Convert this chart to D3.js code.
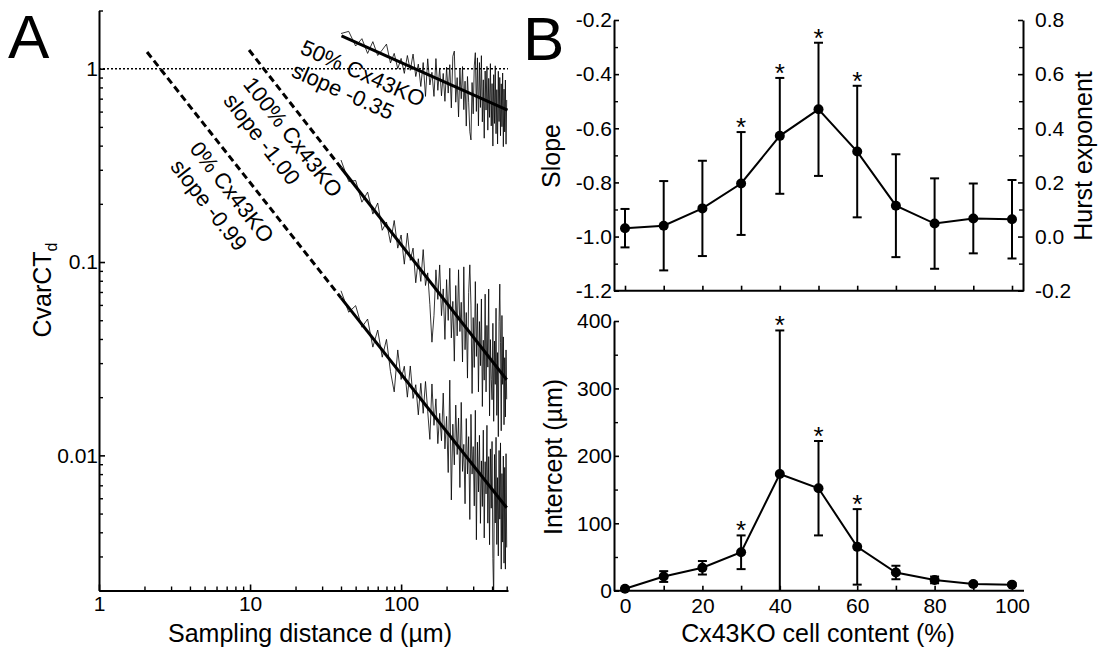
<!DOCTYPE html>
<html><head><meta charset="utf-8">
<script src="https://cdn.jsdelivr.net/npm/d3@7"></script>
<style>
body{margin:0;background:#fff;}
text{font-family:"Liberation Sans",Arial,sans-serif;fill:#000;}
</style></head>
<body>
<script>
// ---------- Panel A data ----------
const dist = [40,45,50,55,60,65,70,75,80,85,90,95,100,105,110,115,120,125,130,135,140,145,150,155,160,165,170,175,180,185,190,195,200,205,210,215,220,225,230,235,240,245,250,255,260,265,270,275,280,285,290,295,300,305,310,315,320,325,330,335,340,345,350,355,360,365,370,375,380,385,390,395,400,405,410,415,420,425,430,435,440,445,450,455,460,465,470,475,480,485,490,495,500];
const cvar0 = [0.0710,0.0550,0.0595,0.0460,0.0507,0.0363,0.0445,0.0322,0.0398,0.0272,0.0213,0.0351,0.0247,0.0289,0.0200,0.0290,0.0197,0.0232,0.0162,0.0236,0.0165,0.0241,0.0169,0.0121,0.0234,0.0143,0.0196,0.0115,0.0165,0.0119,0.0210,0.0108,0.0159,0.00815,0.0245,0.00588,0.0145,0.00893,0.0182,0.0101,0.0156,0.00682,0.0188,0.00826,0.0114,0.00562,0.0155,0.00802,0.0125,0.00466,0.0163,0.00800,0.0111,0.00548,0.0171,0.00366,0.0117,0.00647,0.0127,0.00445,0.00936,0.00544,0.0135,0.00374,0.00927,0.00632,0.0143,0.00446,0.00985,0.00345,0.0108,0.00533,0.0118,0.00293,0.0018,0.0101,0.00447,0.0124,0.00346,0.00767,0.00302,0.0106,0.00468,0.0116,0.00258,0.00805,0.00356,0.00992,0.00277,0.00866,0.00258,0.0102,0.00334];
const cvar50 = [1.52,1.56,1.31,1.43,1.20,1.38,1.17,1.25,1.34,1.07,1.20,1.00,1.13,0.946,1.17,0.981,1.19,0.911,1.056,0.809,1.076,0.719,1.125,0.824,0.958,0.719,1.128,0.773,1.009,0.724,0.945,0.678,1.018,0.748,1.049,0.627,1.159,1.233,0.671,0.899,0.563,0.993,0.699,1.026,0.614,0.862,0.505,0.911,0.671,0.472,0.428,0.848,0.584,1.033,1.210,0.601,1.138,0.506,1.076,0.630,1.168,0.531,0.876,0.437,0.973,0.611,1.028,0.481,0.891,0.560,1.062,0.506,0.837,0.398,0.931,0.521,1.035,0.461,0.779,0.408,0.970,0.533,0.901,0.450,0.835,0.501,0.950,0.395,0.784,0.471,0.874,0.407,0.689];
const cvar100 = [0.337,0.261,0.264,0.204,0.230,0.177,0.202,0.146,0.161,0.126,0.164,0.118,0.138,0.0975,0.141,0.102,0.118,0.0781,0.104,0.0794,0.116,0.0756,0.0879,0.0602,0.0385,0.0528,0.0911,0.0641,0.0966,0.0528,0.0726,0.0398,0.0811,0.0499,0.0929,0.0405,0.0626,0.0307,0.0756,0.0415,0.0912,0.0437,0.0619,0.0304,0.0944,0.0352,0.0548,0.0251,0.0696,0.0967,0.0599,0.0209,0.0516,0.0285,0.0792,0.0325,0.0609,0.0213,0.0492,0.0291,0.0644,0.0179,0.0394,0.0245,0.0682,0.0213,0.0470,0.0286,0.0725,0.0160,0.0397,0.0247,0.0194,0.0482,0.0150,0.0390,0.0233,0.0577,0.0161,0.0340,0.0125,0.0491,0.0769,0.0382,0.0134,0.0529,0.0233,0.0410,0.0144,0.0320,0.0158,0.0351,0.0195];
// fitted power-law lines [d, CvarCT]
const fit0Dashed = [[2.08,1.22],[40,0.0653]];
const fit0Solid = [[40,0.0653],[500,0.00536]];
const fit100Dashed = [[9.85,1.25],[40,0.3075]];
const fit100Solid = [[40,0.3075],[500,0.0246]];
const fit50Solid = [[40.3,1.48],[506,0.611]];
const aXMajor = [1,10,100];
const aYMajor = [0.01,0.1,1];
const aYLabels = ["0.01","0.1","1"];

// ---------- Panel B data ----------
const content = [0,10,20,30,40,50,60,70,80,90,100];
const slopeMean = [-0.969,-0.960,-0.896,-0.804,-0.628,-0.530,-0.686,-0.886,-0.952,-0.933,-0.936];
const slopeErr = [0.071,0.165,0.176,0.190,0.214,0.246,0.243,0.190,0.167,0.129,0.145];
const interceptMean = [3,21,34,57,173,152,65,27,16,10,9];
const interceptErr = [1,8,10,25,213,70,56,10,5,2,2];
const starred = [30,40,50,60];
const slopeTicks = [-1.2,-1.0,-0.8,-0.6,-0.4,-0.2];
const hurstTicks = [-0.2,0.0,0.2,0.4,0.6,0.8];
const interceptTicks = [0,100,200,300,400];
const contentTicks = [0,20,40,60,80,100];

const svg = d3.select("body").append("svg").attr("width",1100).attr("height",652);
svg.append("rect").attr("width",1100).attr("height",652).attr("fill","#fff");
const TICK = 21, TITLE = 25;
const fmt1 = d => (Math.abs(d) < 1e-9 ? 0 : d).toFixed(1);

function styleAxis(g){
  g.selectAll("path.domain").attr("stroke","#000").attr("stroke-width",2);
  g.selectAll(".tick line").attr("stroke","#000").attr("stroke-width",1.6);
  g.selectAll(".tick text").attr("font-size",TICK);
  g.attr("font-family",null).attr("font-size",null);
}
function minorStyle(g){
  g.select("path.domain").remove();
  g.selectAll("line").attr("stroke","#000").attr("stroke-width",1.4);
}

// ================= Panel A =================
const xA = d3.scaleLog().domain([1,510]).range([99,508]);
const yA = d3.scaleLog().domain([0.002,2]).range([590.5,10.5]);

svg.append("defs").append("clipPath").attr("id","clipA")
  .append("rect").attr("x",99).attr("y",10).attr("width",410).attr("height",581);

svg.append("line").attr("x1",xA(1)).attr("x2",xA(510)).attr("y1",yA(1)).attr("y2",yA(1))
  .attr("stroke","#000").attr("stroke-width",1.5).attr("stroke-dasharray","2,2");

const lineA = d3.line().x(p=>xA(p[0])).y(p=>yA(p[1]));
const gTr = svg.append("g").attr("clip-path","url(#clipA)");
[cvar0,cvar50,cvar100].forEach(vals=>{
  gTr.append("path").attr("d",lineA(dist.map((d,i)=>[d,vals[i]])))
    .attr("fill","none").attr("stroke","#000").attr("stroke-width",0.8);
});
[fit0Dashed,fit100Dashed].forEach(f=>{
  svg.append("path").attr("d",lineA(f)).attr("fill","none").attr("stroke","#000")
    .attr("stroke-width",3).attr("stroke-dasharray","7,4");
});
[fit0Solid,fit100Solid,fit50Solid].forEach(f=>{
  svg.append("path").attr("d",lineA(f)).attr("fill","none").attr("stroke","#000").attr("stroke-width",3);
});

const notes = [
  {t:"50% Cx43KO",x:363,y:73,a:24},{t:"slope -0.35",x:343,y:91,a:24},
  {t:"100% Cx43KO",x:293,y:137,a:52},{t:"slope -1.00",x:262,y:139,a:52},
  {t:"0% Cx43KO",x:232,y:192,a:52},{t:"slope -0.99",x:209,y:205,a:52}
];
notes.forEach(n=>{
  svg.append("text").attr("transform",`translate(${n.x},${n.y}) rotate(${n.a})`)
    .attr("text-anchor","middle").attr("dy","0.35em").attr("font-size",22).text(n.t);
});

const yAxA = svg.append("g").attr("transform","translate(99,0)")
  .call(d3.axisLeft(yA).tickValues(aYMajor).tickFormat((d,i)=>aYLabels[i]).tickSize(-6).tickSizeOuter(0).tickPadding(1));
styleAxis(yAxA);
const yMinor = yA.ticks().filter(v=>!aYMajor.some(m=>Math.abs(m-v)<1e-9));
svg.append("g").attr("transform","translate(99,0)")
  .call(d3.axisLeft(yA).tickValues(yMinor).tickFormat("").tickSize(-4).tickSizeOuter(0)).call(minorStyle);
const xAxA = svg.append("g").attr("transform","translate(0,590.5)")
  .call(d3.axisBottom(xA).tickValues(aXMajor).tickFormat(d3.format("d")).tickSize(-6).tickSizeOuter(0).tickPadding(6));
styleAxis(xAxA);
const xMinor = xA.ticks().filter(v=>!aXMajor.includes(v));
svg.append("g").attr("transform","translate(0,590.5)")
  .call(d3.axisBottom(xA).tickValues(xMinor).tickFormat("").tickSize(-4).tickSizeOuter(0)).call(minorStyle);

svg.append("text").attr("x",310).attr("y",642).attr("text-anchor","middle").attr("font-size",TITLE)
  .text("Sampling distance d (µm)");
const yt = svg.append("text").attr("transform","translate(51,290) rotate(-90)").attr("text-anchor","middle").attr("font-size",TITLE);
yt.append("tspan").text("CvarCT");
yt.append("tspan").attr("font-size",16).attr("dy",6).text("d");
svg.append("text").attr("x",8).attr("y",58).attr("font-size",62).text("A");
svg.append("text").attr("x",523).attr("y",60).attr("font-size",62).text("B");

// ================= Panel B =================
const xB = d3.scaleLinear().domain([0,100]).range([625,1012]);
const yS = d3.scaleLinear().domain([-1.2,-0.2]).range([290.7,20]);
const yH = d3.scaleLinear().domain([-0.2,0.8]).range([290.7,20]);
const yI = d3.scaleLinear().domain([0,400]).range([590.7,321]);

function hLine(y){ return svg.append("line").attr("x1",614).attr("x2",1024).attr("y1",y).attr("y2",y).attr("stroke","#000").attr("stroke-width",2); }

const ySAx = svg.append("g").attr("transform","translate(614,0)")
  .call(d3.axisLeft(yS).tickValues(slopeTicks).tickFormat(fmt1).tickSize(-5).tickSizeOuter(0).tickPadding(2));
styleAxis(ySAx);
svg.append("g").attr("transform","translate(614,0)")
  .call(d3.axisLeft(yS).tickValues([-1.1,-0.9,-0.7,-0.5,-0.3]).tickFormat("").tickSize(-4).tickSizeOuter(0)).call(minorStyle);
const yHAx = svg.append("g").attr("transform","translate(1023,0)")
  .call(d3.axisRight(yH).tickValues(hurstTicks).tickFormat(fmt1).tickSize(-5).tickSizeOuter(0).tickPadding(12));
styleAxis(yHAx);
svg.append("g").attr("transform","translate(1023,0)")
  .call(d3.axisRight(yH).tickValues([-0.1,0.1,0.3,0.5,0.7]).tickFormat("").tickSize(-4).tickSizeOuter(0)).call(minorStyle);
const xTopAx = svg.append("g").attr("transform","translate(0,290.7)")
  .call(d3.axisBottom(xB).tickValues(content).tickFormat("").tickSize(-5).tickSizeOuter(0));
styleAxis(xTopAx); xTopAx.select("path.domain").remove();
hLine(290.7);

const yIAx = svg.append("g").attr("transform","translate(614,0)")
  .call(d3.axisLeft(yI).tickValues(interceptTicks).tickSize(-5).tickSizeOuter(0).tickPadding(2));
styleAxis(yIAx);
svg.append("g").attr("transform","translate(614,0)")
  .call(d3.axisLeft(yI).tickValues([50,150,250,350]).tickFormat("").tickSize(-4).tickSizeOuter(0)).call(minorStyle);
const xBotAx = svg.append("g").attr("transform","translate(0,590.7)")
  .call(d3.axisBottom(xB).tickValues(content).tickFormat(d=>contentTicks.includes(d)?d:"").tickSize(-5).tickSizeOuter(0).tickPadding(7));
styleAxis(xBotAx); xBotAx.select("path.domain").remove();
hLine(590.7);

function drawSeries(yScale, means, errs, floor){
  const g = svg.append("g");
  content.forEach((c,i)=>{
    const hi = means[i]+errs[i], lo = Math.max(floor, means[i]-errs[i]);
    const x = xB(c);
    g.append("line").attr("x1",x).attr("x2",x).attr("y1",yScale(hi)).attr("y2",yScale(lo)).attr("stroke","#000").attr("stroke-width",2);
    [hi,lo].forEach(v=>{
      if (v===floor) return;
      g.append("line").attr("x1",x-4.5).attr("x2",x+4.5).attr("y1",yScale(v)).attr("y2",yScale(v)).attr("stroke","#000").attr("stroke-width",2);
    });
    if (starred.includes(c)) {
      g.append("text").attr("x",x).attr("y",yScale(hi)+4).attr("text-anchor","middle").attr("font-size",26).text("*");
    }
  });
  g.append("path").attr("d",d3.line().x(c=>xB(c)).y((c,i)=>yScale(means[i]))(content))
    .attr("fill","none").attr("stroke","#000").attr("stroke-width",2);
  g.selectAll("circle.m").data(content).enter().append("circle")
    .attr("cx",c=>xB(c)).attr("cy",(c,i)=>yScale(means[i])).attr("r",5).attr("fill","#000");
}
drawSeries(yS, slopeMean, slopeErr, -Infinity);
drawSeries(yI, interceptMean, interceptErr, 0);

svg.append("text").attr("transform","translate(560,156) rotate(-90)").attr("text-anchor","middle").attr("font-size",TITLE).text("Slope");
svg.append("text").attr("transform","translate(1092,156) rotate(-90)").attr("text-anchor","middle").attr("font-size",TITLE).text("Hurst exponent");
svg.append("text").attr("transform","translate(562,457) rotate(-90)").attr("text-anchor","middle").attr("font-size",TITLE).text("Intercept (µm)");
svg.append("text").attr("x",818).attr("y",642).attr("text-anchor","middle").attr("font-size",TITLE).text("Cx43KO cell content (%)");
</script>
</body></html>
